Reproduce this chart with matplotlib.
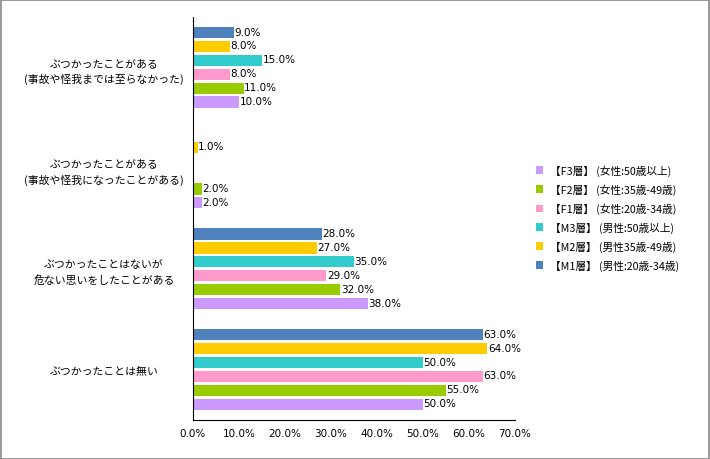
import matplotlib
matplotlib.use("Agg")
import matplotlib.pyplot as plt
import numpy as np
from matplotlib.patches import Rectangle

plt.rcParams['font.family'] = ['Noto Sans CJK JP', 'DejaVu Sans']

categories = ["ぶつかったことがある\n(事故や怪我までは至らなかった)",
              "ぶつかったことがある\n(事故や怪我になったことがある)",
              "ぶつかったことはないが\n危ない思いをしたことがある",
              "ぶつかったことは無い"]
series_names = ["【M1層】 (男性:20歳-34歳)",
                "【M2層】 (男性35歳-49歳)",
                "【M3層】 (男性:50歳以上)",
                "【F1層】 (女性:20歳-34歳)",
                "【F2層】 (女性:35歳-49歳)",
                "【F3層】 (女性:50歳以上)"]
m1 = [9, 0, 28, 63]
m2 = [8, 1, 27, 64]
m3 = [15, 0, 35, 50]
f1 = [8, 0, 29, 63]
f2 = [11, 2, 32, 55]
f3 = [10, 2, 38, 50]
series = [m1, m2, m3, f1, f2, f3]
colors = ["#4F81BD", "#FFCC00", "#33CCCC", "#FF99CC", "#99CC00", "#CC99FF"]
xticks = [0, 10, 20, 30, 40, 50, 60, 70]

fig = plt.figure(figsize=(7.1, 4.6), dpi=100)
fig.patches.append(Rectangle((0.001, 0.001), 0.998, 0.997, transform=fig.transFigure,
                             fill=False, edgecolor="#888888", linewidth=1.2))
ax = fig.add_axes([0.2718, 0.085, 0.4536, 0.876])

n = len(series)
slot = 0.138
bar_h = 0.112
y = np.arange(len(categories))
handles = []
for i, (vals, c, name) in enumerate(zip(series, colors, series_names)):
    pos = y - (n - 1) / 2 * slot + i * slot
    bars = ax.barh(pos, vals, height=bar_h, color=c, label=name)
    handles.append(bars)
    for p, v in zip(pos, vals):
        if v > 0:
            ax.text(v + 0.1, p - 0.01, f"{v:.1f}%", va='center', ha='left', fontsize=7.5,
                    color="#000000", family='DejaVu Sans')

ax.set_ylim(len(categories) - 0.5, -0.5)
ax.set_xlim(0, 70)
ax.set_xticks(xticks)
ax.set_xticklabels([f"{t:.1f}%" for t in xticks], fontsize=7.5, family='DejaVu Sans')
ax.set_yticks(y)
ax.set_yticklabels(categories, fontsize=7.8, ha='center', multialignment='center',
                   linespacing=1.55)
ax.tick_params(axis='y', length=0, pad=64)
ax.tick_params(axis='x', length=0, pad=6)
for s in ['top', 'right']:
    ax.spines[s].set_visible(False)
ax.spines['left'].set_color('#000000')
ax.spines['bottom'].set_color('#000000')

leg = fig.legend(handles[::-1], series_names[::-1], loc='center left',
                 bbox_to_anchor=(0.741, 0.525), frameon=False, fontsize=7.7,
                 handlelength=0.7, handleheight=0.7, labelspacing=0.72, handletextpad=0.6)

fig.savefig("out.png", dpi=100)
